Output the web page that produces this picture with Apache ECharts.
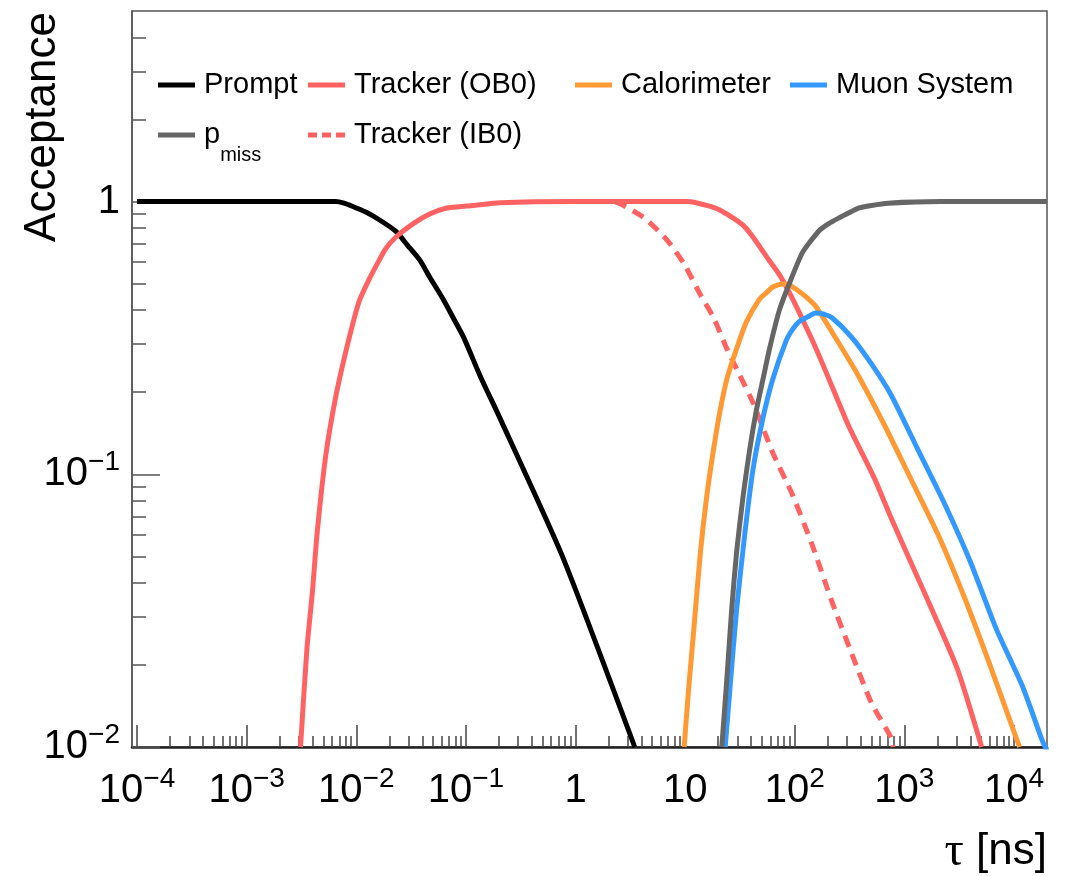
<!DOCTYPE html>
<html>
<head>
<meta charset="utf-8">
<script src="https://cdn.jsdelivr.net/npm/echarts@6/dist/echarts.min.js"></script>
<style>html,body{margin:0;padding:0;background:#fff}#c{width:1069px;height:876px}</style>
</head>
<body>
<div id="c"></div>
<script>
// ---------------- data ----------------
const promptX = [1e-4, 1e-3, 0.0065, 0.00773, 0.0092, 0.01222, 0.0162, 0.0229, 0.0295, 0.038, 0.047, 0.0617, 0.0766, 0.095, 0.1346, 0.204, 0.76, 3.47];
const promptY = [1.0, 1.0, 1.0, 0.987, 0.962, 0.916, 0.858, 0.779, 0.69, 0.61, 0.527, 0.44, 0.375, 0.319, 0.23, 0.161, 0.05, 0.01];

const trackerOBX = [0.0031, 0.00355, 0.00398, 0.0044, 0.00525, 0.00646, 0.008, 0.0106, 0.0131, 0.0162, 0.0186, 0.0229, 0.0331, 0.0467, 0.066, 0.117, 0.204, 1.0, 10.5, 12, 17, 20.9, 27.5, 33.9, 41.7, 55, 72.4, 95.5, 144.5, 190.5, 309, 537, 759, 1514, 3020, 5070];
const trackerOBY = [0.01, 0.023, 0.037, 0.061, 0.116, 0.19, 0.28, 0.43, 0.519, 0.61, 0.673, 0.74, 0.83, 0.90, 0.946, 0.968, 0.99, 1.0, 1.0, 0.995, 0.96, 0.93, 0.87, 0.818, 0.74, 0.63, 0.54, 0.44, 0.31, 0.24, 0.151, 0.096, 0.069, 0.037, 0.0195, 0.01];

const trackerIBX = [2.3, 2.63, 4.27, 6.9, 9.8, 13.8, 18.2, 24, 31.6, 41.7, 63, 95.5, 144.5, 219, 331, 501, 759, 790];
const trackerIBY = [1.0, 0.977, 0.87, 0.72, 0.59, 0.455, 0.375, 0.289, 0.23, 0.183, 0.12, 0.084, 0.055, 0.034, 0.022, 0.0145, 0.0108, 0.01];

const caloX = [9.8, 10.8, 12, 13.8, 15.8, 18.2, 20.9, 24, 29.5, 36.3, 47.9, 55, 63, 77.6, 89, 102, 126, 155, 234, 380, 661, 1148, 1995, 3467, 6026, 11220];
const caloY = [0.01, 0.0166, 0.027, 0.052, 0.084, 0.124, 0.172, 0.223, 0.289, 0.363, 0.44, 0.463, 0.486, 0.499, 0.494, 0.478, 0.448, 0.413, 0.318, 0.23, 0.151, 0.096, 0.061, 0.036, 0.02, 0.01];

const muonX = [23.2, 25.7, 29.5, 35.1, 41.7, 51.3, 63, 83.2, 95.5, 109.6, 130, 155, 184, 219, 331, 501, 759, 1318, 2291, 3981, 6918, 12020, 18200, 20000];
const muonY = [0.01, 0.0166, 0.032, 0.061, 0.105, 0.161, 0.223, 0.308, 0.34, 0.363, 0.377, 0.39, 0.387, 0.375, 0.318, 0.254, 0.195, 0.124, 0.079, 0.048, 0.027, 0.0166, 0.0105, 0.0097];

const pmissX = [21.6, 24, 26.6, 29.5, 33.9, 38.9, 44.7, 51.3, 58.9, 72.4, 89.1, 117.5, 166, 204, 251, 309, 380, 501, 708, 2138, 20000];
const pmissY = [0.01, 0.0177, 0.032, 0.052, 0.084, 0.124, 0.172, 0.223, 0.289, 0.40, 0.50, 0.65, 0.78, 0.83, 0.87, 0.908, 0.946, 0.968, 0.987, 1.0, 1.0];

const seriesNames = ['Prompt', 'Tracker (OB0)', 'Tracker (IB0)', 'Calorimeter', 'Muon System', 'p_miss'];

const xMajor = [1e-4, 1e-3, 1e-2, 1e-1, 1, 10, 100, 1000, 10000];
const xTickLabels = ['10^\u22124', '10^\u22123', '10^\u22122', '10^\u22121', '1', '10', '10^2', '10^3', '10^4'];
const yMajor = [0.01, 0.1, 1];
const yTickLabels = ['10^\u22122', '10^\u22121', '1'];
const xRange = [9e-5, 2e4];
const yRange = [0.01, 5];
const xTitle = '\u03c4 [ns]';
const yTitle = 'Acceptance';

// ---------------- helpers ----------------
function pairs(xs, ys) { return xs.map((x, i) => [x, ys[i]]); }
function minorTicks(lo, hi, e0, e1) {
  const out = [];
  for (let e = e0; e <= e1; e++) for (let m = 2; m <= 9; m++) {
    const v = m * Math.pow(10, e);
    if (v > lo && v < hi) out.push(v);
  }
  return out;
}
function richLabel(lab) {
  if (lab.indexOf('^') >= 0) { const p = lab.split('^'); return '{b|' + p[0] + '}{s|' + p[1] + '}'; }
  return '{b|' + lab + '}';
}
function labelFor(ticks, labels) {
  return function (v) {
    const i = ticks.findIndex(t => Math.abs(t - v) <= t * 1e-6);
    return i >= 0 ? richLabel(labels[i]) : '';
  };
}

const F = '"Liberation Sans", Arial, Helvetica, sans-serif';
const tickRich = {
  b: { fontSize: 40, lineHeight: 52, fontFamily: F, color: '#000' },
  s: { fontSize: 28, lineHeight: 28, verticalAlign: 'top', fontFamily: F, color: '#000' }
};
const colors = {
  'Prompt': '#000000',
  'Tracker (OB0)': '#ff6262',
  'Tracker (IB0)': '#ff6262',
  'Calorimeter': '#ff9933',
  'Muon System': '#3399ff',
  'p_miss': '#666666'
};
const ICON_SOLID = 'path://M0 0H37V5H0Z';
const ICON_DASH = 'path://M0 0H9V5H0Z M14 0H23V5H14Z M28 0H37V5H28Z';

const chart = echarts.init(document.getElementById('c'), null, { renderer: 'canvas' });

function line(name, xs, ys, dashed) {
  return {
    name: name, type: 'line', xAxisIndex: 0, yAxisIndex: 0,
    data: pairs(xs, ys), symbol: 'none', showSymbol: false,
    smooth: 0.2, clip: true,
    lineStyle: { color: colors[name], width: 5, type: dashed ? [12, 8] : 'solid', join: 'round' },
    itemStyle: { color: colors[name] },
    emphasis: { disabled: true }
  };
}

function legendAt(name, left, top, dashed) {
  return {
    data: [{ name: name, icon: dashed ? ICON_DASH : ICON_SOLID }], left: left, top: top, padding: 0, itemGap: 0,
    itemWidth: 37, itemHeight: 5, selectedMode: false,
    itemStyle: { color: colors[name], borderWidth: 0 },
    formatter: function (n) { return n === 'p_miss' ? '{a|p}{sub|miss}' : n; },
    textStyle: {
      fontSize: 29, lineHeight: 34, fontFamily: F, color: '#000', padding: [0, 0, 0, 4],
      rich: {
        a: { fontSize: 29, lineHeight: 30, fontFamily: F, color: '#000' },
        sub: { fontSize: 20, lineHeight: 20, padding: [40, 0, 0, 0], fontFamily: F, color: '#000' }
      }
    }
  };
}

const option = {
  animation: false,
  backgroundColor: '#fff',
  grid: { left: 132, right: 22, top: 11, bottom: 129, show: true, borderColor: '#555', borderWidth: 1.5, containLabel: false, outerBoundsMode: 'none' },
  legend: [
    legendAt('Prompt', 158, 68, false),
    legendAt('Tracker (OB0)', 308, 68, false),
    legendAt('Calorimeter', 575, 68, false),
    legendAt('Muon System', 790, 68, false),
    legendAt('p_miss', 158, 105, false),
    legendAt('Tracker (IB0)', 308, 118, true)
  ],
  xAxis: [
    {
      type: 'log', logBase: 10, min: xRange[0], max: xRange[1], position: 'bottom',
      axisLine: { show: true, onZero: false, lineStyle: { color: '#222', width: 2.5 } },
      axisTick: { show: true, inside: true, length: 22, customValues: xMajor, lineStyle: { color: '#444', width: 1.5 } },
      axisLabel: { show: true, customValues: xMajor, margin: 18, formatter: labelFor(xMajor, xTickLabels), rich: tickRich },
      splitLine: { show: false }, minorTick: { show: false }
    },
    {
      type: 'log', logBase: 10, min: xRange[0], max: xRange[1], position: 'bottom',
      axisLine: { show: false, onZero: false },
      axisTick: { show: true, inside: true, length: 11, customValues: minorTicks(xRange[0], xRange[1], -5, 4), lineStyle: { color: '#444', width: 1.5 } },
      axisLabel: { show: false }, splitLine: { show: false }
    }
  ],
  yAxis: [
    {
      type: 'log', logBase: 10, min: yRange[0], max: yRange[1], position: 'left',
      axisLine: { show: true, onZero: false, lineStyle: { color: '#555', width: 1.5 } },
      axisTick: { show: true, inside: true, length: 28, customValues: yMajor, lineStyle: { color: '#555', width: 1.5 } },
      axisLabel: { show: true, customValues: yMajor, margin: 12, formatter: labelFor(yMajor, yTickLabels), rich: tickRich },
      splitLine: { show: false }, minorTick: { show: false }
    },
    {
      type: 'log', logBase: 10, min: yRange[0], max: yRange[1], position: 'left',
      axisLine: { show: false, onZero: false },
      axisTick: { show: true, inside: true, length: 14, customValues: minorTicks(yRange[0], yRange[1], -2, 0), lineStyle: { color: '#555', width: 1.5 } },
      axisLabel: { show: false }, splitLine: { show: false }
    }
  ],
  graphic: [
    {
      type: 'text', x: 43, y: 12, rotation: Math.PI / 2, silent: true,
      style: { text: yTitle, font: '44px ' + F, fill: '#000', textAlign: 'right', textVerticalAlign: 'middle', align: 'right', verticalAlign: 'middle' }
    },
    {
      type: 'text', x: 1047, y: 852, silent: true,
      style: {
        text: '{t|\u03c4} [ns]', font: '44px ' + F, fill: '#000', textAlign: 'right', textVerticalAlign: 'middle', align: 'right', verticalAlign: 'middle',
        rich: { t: { fontFamily: '"Liberation Serif", "DejaVu Serif", serif', fontSize: 48, fill: '#000' } }
      }
    }
  ],
  series: [
    line('Prompt', promptX, promptY, false),
    line('Tracker (OB0)', trackerOBX, trackerOBY, false),
    line('Tracker (IB0)', trackerIBX, trackerIBY, true),
    line('Calorimeter', caloX, caloY, false),
    line('Muon System', muonX, muonY, false),
    line('p_miss', pmissX, pmissY, false)
  ]
};
chart.setOption(option);
</script>
</body>
</html>
